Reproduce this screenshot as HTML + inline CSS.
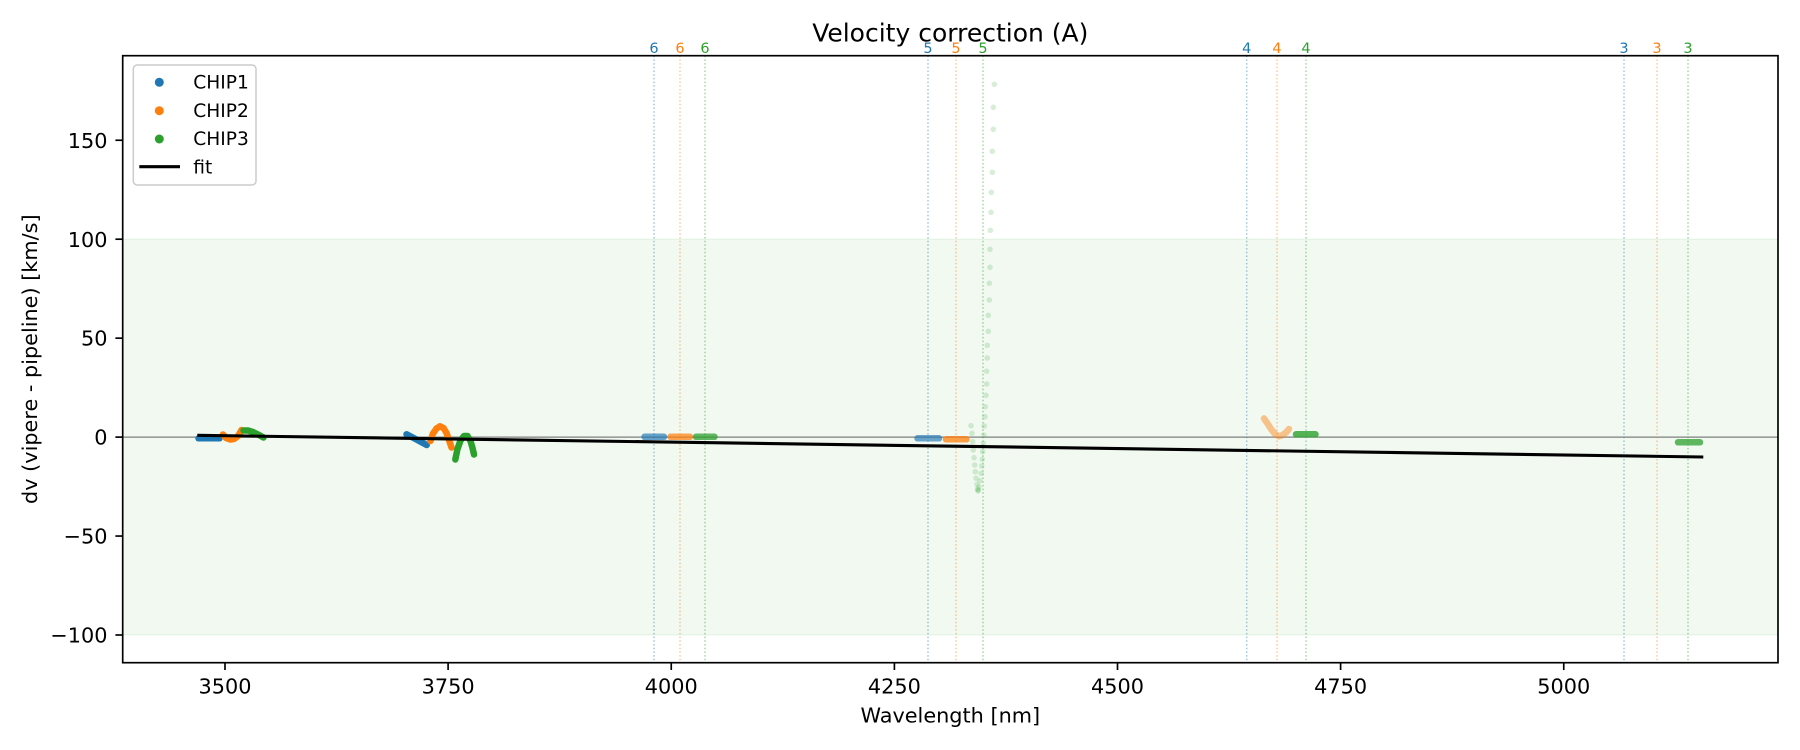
<!DOCTYPE html>
<html>
<head>
<meta charset="utf-8">
<style>
html,body{margin:0;padding:0;background:#fff;}
svg{display:block;font-family:"DejaVu Sans","Liberation Sans",sans-serif;}
</style>
</head>
<body>
<svg width="1800" height="750" viewBox="0 0 1800 750" xmlns="http://www.w3.org/2000/svg">
<rect x="0" y="0" width="1800" height="750" fill="#fff"/>

<rect x="122.7" y="239.2" width="1655.3" height="395.8" fill="#2ca02c" fill-opacity="0.065" stroke="#2ca02c" stroke-opacity="0.07" stroke-width="1.5"/>

<line x1="122.7" y1="437.1" x2="1778" y2="437.1" stroke="#808080" stroke-width="1.2"/>

<g stroke-width="1.5" stroke-dasharray="1.5,2.2" stroke-opacity="0.42">
<line x1="654" y1="55.7" x2="654" y2="662.7" stroke="#1f77b4"/>
<line x1="680" y1="55.7" x2="680" y2="662.7" stroke="#ff7f0e"/>
<line x1="705" y1="55.7" x2="705" y2="662.7" stroke="#2ca02c"/>
<line x1="928" y1="55.7" x2="928" y2="662.7" stroke="#1f77b4"/>
<line x1="956" y1="55.7" x2="956" y2="662.7" stroke="#ff7f0e"/>
<line x1="983" y1="55.7" x2="983" y2="662.7" stroke="#2ca02c"/>
<line x1="1246.7" y1="55.7" x2="1246.7" y2="662.7" stroke="#1f77b4"/>
<line x1="1277" y1="55.7" x2="1277" y2="662.7" stroke="#ff7f0e"/>
<line x1="1306" y1="55.7" x2="1306" y2="662.7" stroke="#2ca02c"/>
<line x1="1624" y1="55.7" x2="1624" y2="662.7" stroke="#1f77b4"/>
<line x1="1657" y1="55.7" x2="1657" y2="662.7" stroke="#ff7f0e"/>
<line x1="1688" y1="55.7" x2="1688" y2="662.7" stroke="#2ca02c"/>
</g>

<g font-size="14.5" text-anchor="middle">
<text x="654" y="53" fill="#1f77b4">6</text>
<text x="680" y="53" fill="#ff7f0e">6</text>
<text x="705" y="53" fill="#2ca02c">6</text>
<text x="928" y="53" fill="#1f77b4">5</text>
<text x="956" y="53" fill="#ff7f0e">5</text>
<text x="983" y="53" fill="#2ca02c">5</text>
<text x="1246.7" y="53" fill="#1f77b4">4</text>
<text x="1277" y="53" fill="#ff7f0e">4</text>
<text x="1306" y="53" fill="#2ca02c">4</text>
<text x="1624" y="53" fill="#1f77b4">3</text>
<text x="1657" y="53" fill="#ff7f0e">3</text>
<text x="1688" y="53" fill="#2ca02c">3</text>
</g>

<g fill="#2ca02c" fill-opacity="0.18">
<circle cx="994.3" cy="84.3" r="2.8"/>
<circle cx="993.3" cy="107.3" r="2.8"/>
<circle cx="993.3" cy="129.3" r="2.8"/>
<circle cx="992.3" cy="151.3" r="2.8"/>
<circle cx="992.3" cy="172.3" r="2.8"/>
<circle cx="991.3" cy="192.3" r="2.8"/>
<circle cx="991" cy="212.3" r="2.8"/>
<circle cx="990.3" cy="230.3" r="2.8"/>
<circle cx="990" cy="249.3" r="2.8"/>
<circle cx="990" cy="267.3" r="2.8"/>
<circle cx="989.3" cy="283.3" r="2.8"/>
<circle cx="989.3" cy="300" r="2.8"/>
<circle cx="988.3" cy="315.3" r="2.8"/>
<circle cx="988.3" cy="331.3" r="2.8"/>
<circle cx="987.3" cy="345.3" r="2.8"/>
<circle cx="987.3" cy="358" r="2.8"/>
<circle cx="986.7" cy="371.3" r="2.8"/>
<circle cx="986.7" cy="384" r="2.8"/>
<circle cx="986" cy="395.3" r="2.8"/>
<circle cx="985.3" cy="406.7" r="2.8"/>
<circle cx="985" cy="416.7" r="2.8"/>
<circle cx="984.3" cy="426" r="2.8"/>
<circle cx="984" cy="435" r="2.8"/>
<circle cx="983.3" cy="443.3" r="2.8"/>
<circle cx="982.7" cy="451.7" r="2.8"/>
<circle cx="982.3" cy="459.3" r="2.8"/>
<circle cx="981.7" cy="466" r="2.8"/>
<circle cx="981" cy="473.3" r="2.8"/>
<circle cx="980" cy="480.7" r="2.8"/>
<circle cx="979" cy="486.7" r="2.8"/>
<circle cx="978" cy="491" r="2.8"/>
<circle cx="978.3" cy="490" r="2.8"/>
<circle cx="977.5" cy="489" r="2.8"/>
<circle cx="971" cy="425.7" r="2.8"/>
<circle cx="972" cy="433.3" r="2.8"/>
<circle cx="972.7" cy="441.7" r="2.8"/>
<circle cx="973.3" cy="450" r="2.8"/>
<circle cx="974" cy="457.7" r="2.8"/>
<circle cx="974.7" cy="465" r="2.8"/>
<circle cx="975.3" cy="471.7" r="2.8"/>
<circle cx="976" cy="478.3" r="2.8"/>
<circle cx="977" cy="484.3" r="2.8"/>
</g>

<g fill="none" stroke-linecap="round" stroke-linejoin="round" stroke-width="6.5">
<polyline points="198.5,438.3 219.5,438.3" stroke="#1f77b4"/>
<polyline points="223,434.5 226,438 230,439.5 234,439 238,436 241.5,430" stroke="#ff7f0e"/>
<polyline points="243.5,430.5 248,430.5 253,432 258,434.5 263.5,437.5" stroke="#2ca02c"/>
<polyline points="406.5,434.3 416.5,439.5 426.7,445" stroke="#1f77b4"/>
<polyline points="430.5,441 433,433.5 436.5,428.5 440,426.3 443.5,428 446.5,433 449,440 451.5,447.5" stroke="#ff7f0e"/>
<polyline points="455.3,459.5 457.5,449 460.5,440.5 464,436 467.5,436 470.5,441 472.5,448 474,454.5" stroke="#2ca02c"/>
<polyline points="644.5,436.8 664,436.8" stroke="#1f77b4" stroke-opacity="0.68"/>
<polyline points="670.5,436.8 690,436.8" stroke="#ff7f0e" stroke-opacity="0.72"/>
<polyline points="696,436.8 714.5,436.8" stroke="#2ca02c" stroke-opacity="0.75"/>
<polyline points="917.5,438.3 939,438.3" stroke="#1f77b4" stroke-opacity="0.65"/>
<polyline points="946,439.3 966.5,439.3" stroke="#ff7f0e" stroke-opacity="0.75"/>
<polyline points="1264,418.5 1267.5,423.5 1271,429 1275,434 1279,436.3 1283,435 1286.5,432 1289,429" stroke="#ff7f0e" stroke-opacity="0.45"/>
<polyline points="1296,434.3 1315.5,434.3" stroke="#2ca02c" stroke-opacity="0.8"/>
<polyline points="1678,442.3 1700,442.3" stroke="#2ca02c" stroke-opacity="0.75"/>
</g>

<line x1="197.3" y1="435.3" x2="1703.3" y2="457" stroke="#000" stroke-width="3.1"/>

<rect x="122.7" y="55.7" width="1655.3" height="607" fill="none" stroke="#000" stroke-width="1.67"/>

<g stroke="#000" stroke-width="1.67">
<line x1="115.4" y1="140.25" x2="122.7" y2="140.25"/>
<line x1="115.4" y1="239.2" x2="122.7" y2="239.2"/>
<line x1="115.4" y1="338.15" x2="122.7" y2="338.15"/>
<line x1="115.4" y1="437.1" x2="122.7" y2="437.1"/>
<line x1="115.4" y1="536.05" x2="122.7" y2="536.05"/>
<line x1="115.4" y1="635" x2="122.7" y2="635"/>
</g>
<g font-size="20.8" text-anchor="end" fill="#000">
<text x="107.5" y="147.8">150</text>
<text x="107.5" y="246.8">100</text>
<text x="107.5" y="345.7">50</text>
<text x="107.5" y="444.7">0</text>
<text x="107.5" y="543.6">−50</text>
<text x="107.5" y="642.6">−100</text>
</g>

<g stroke="#000" stroke-width="1.67">
<line x1="225" y1="662.7" x2="225" y2="670"/>
<line x1="448.1" y1="662.7" x2="448.1" y2="670"/>
<line x1="671.25" y1="662.7" x2="671.25" y2="670"/>
<line x1="894.4" y1="662.7" x2="894.4" y2="670"/>
<line x1="1117.5" y1="662.7" x2="1117.5" y2="670"/>
<line x1="1340.6" y1="662.7" x2="1340.6" y2="670"/>
<line x1="1563.75" y1="662.7" x2="1563.75" y2="670"/>
</g>
<g font-size="20.8" text-anchor="middle" fill="#000">
<text x="225" y="693.3">3500</text>
<text x="448.1" y="693.3">3750</text>
<text x="671.25" y="693.3">4000</text>
<text x="894.4" y="693.3">4250</text>
<text x="1117.5" y="693.3">4500</text>
<text x="1340.6" y="693.3">4750</text>
<text x="1563.75" y="693.3">5000</text>
</g>

<text x="950.3" y="722.5" font-size="20.8" text-anchor="middle" fill="#000">Wavelength [nm]</text>
<text transform="translate(37,359.2) rotate(-90)" x="0" y="0" font-size="20.8" text-anchor="middle" fill="#000">dv (vipere - pipeline) [km/s]</text>

<text x="950.3" y="41.7" font-size="25" text-anchor="middle" fill="#000">Velocity correction (A)</text>

<rect x="133.3" y="65" width="122.7" height="120" rx="4" ry="4" fill="#fff" fill-opacity="0.8" stroke="#cccccc" stroke-width="1.5"/>
<circle cx="159.3" cy="82.3" r="4.5" fill="#1f77b4"/>
<circle cx="159.3" cy="110.7" r="4.5" fill="#ff7f0e"/>
<circle cx="159.3" cy="139" r="4.5" fill="#2ca02c"/>
<line x1="139.3" y1="166.7" x2="180" y2="166.7" stroke="#000" stroke-width="3.1"/>
<g font-size="18.6" fill="#000">
<text x="193.3" y="88.6">CHIP1</text>
<text x="193.3" y="116.9">CHIP2</text>
<text x="193.3" y="145.2">CHIP3</text>
<text x="193.3" y="173.3">fit</text>
</g>
</svg>
</body>
</html>
